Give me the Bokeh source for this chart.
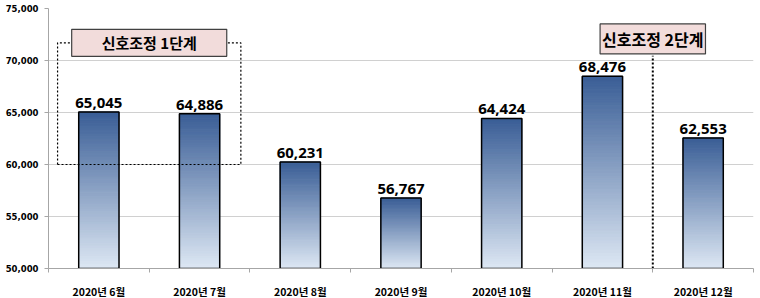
from bokeh.plotting import figure
from bokeh.models import Range1d, FixedTicker, NumeralTickFormatter, Label
from bokeh.core.properties import value
from bokeh.embed import file_html
from bokeh.resources import INLINE

categories = ["2020년 6월", "2020년 7월", "2020년 8월", "2020년 9월",
              "2020년 10월", "2020년 11월", "2020년 12월"]
values = [65045, 64886, 60231, 56767, 64424, 68476, 62553]
y_ticks = [50000, 55000, 60000, 65000, 70000, 75000]
stage_labels = ["신호조정 1단계", "신호조정 2단계"]

Y0, Y1 = 50000, 75000
n = len(categories)

p = figure(frame_width=705, frame_height=260, output_backend="svg", toolbar_location=None,
           x_range=Range1d(0, n), y_range=Range1d(Y0, Y1),
           min_border_left=48, min_border_right=7, min_border_top=8, min_border_bottom=30)
p.outline_line_color = None
p.background_fill_color = "white"
p.border_fill_color = "white"

# axes
p.xgrid.grid_line_color = None
p.ygrid.grid_line_color = "#d0d0d0"
p.ygrid.grid_line_width = 1
p.yaxis.ticker = FixedTicker(ticks=y_ticks)
p.yaxis.formatter = NumeralTickFormatter(format="0,0")
p.yaxis.axis_line_color = "#a6a6a6"
p.yaxis.major_tick_line_color = "#a6a6a6"
p.yaxis.major_tick_out = 4
p.yaxis.major_tick_in = 0
p.yaxis.minor_tick_line_color = None
p.yaxis.major_label_text_font = "DejaVu Sans"
p.yaxis.major_label_text_font_style = "bold"
p.yaxis.major_label_text_font_size = "8.5px"
p.yaxis.major_label_text_color = "black"
p.yaxis.major_label_standoff = 6

centers = [i + 0.5 for i in range(n)]
p.xaxis.ticker = FixedTicker(ticks=centers, minor_ticks=list(range(n + 1)))
p.xaxis.major_label_overrides = {c: lab for c, lab in zip(centers, categories)}
p.xaxis.major_tick_line_color = None
p.xaxis.minor_tick_line_color = "#a6a6a6"
p.xaxis.minor_tick_out = 4
p.xaxis.minor_tick_in = 0
p.xaxis.axis_line_color = "#a6a6a6"
p.xaxis.major_label_text_font = "Noto Sans CJK KR"
p.xaxis.major_label_text_font_style = "bold"
p.xaxis.major_label_text_font_size = "10.5px"
p.xaxis.major_label_text_color = "black"
p.xaxis.major_label_standoff = 9

# gradient bars
N = 60
top_c = (58, 94, 150)
bot_c = (222, 232, 244)
L, R, B, T, C = [], [], [], [], []
bw = 0.4
for i, v in enumerate(values):
    for k in range(N):
        f0 = k / N
        f1 = (k + 1) / N
        B.append(Y0 + (v - Y0) * f0)
        T.append(Y0 + (v - Y0) * f1)
        L.append(centers[i] - bw / 2)
        R.append(centers[i] + bw / 2)
        t = (k + 0.5) / N
        col = tuple(int(round(bot_c[j] + (top_c[j] - bot_c[j]) * t)) for j in range(3))
        C.append("#%02x%02x%02x" % col)
p.quad(left=L, right=R, bottom=B, top=T, fill_color=C, line_color=C, line_width=1)
p.quad(left=[c - bw / 2 for c in centers], right=[c + bw / 2 for c in centers],
       bottom=[Y0] * n, top=values, fill_color=None, line_color="black", line_width=1.5)

# value labels
p.text(x=centers, y=values, text=[f"{v:,}" for v in values], text_align="center",
       text_baseline="bottom", y_offset=-4, text_font=value("Noto Sans"),
       text_font_style="bold", text_font_size="15px", text_color="black")

# stage 1 dotted box
box_l, box_r, box_b, box_t = 0.09, 1.91, 60000, 71700
p.line(x=[box_l, box_l, box_r, box_r, box_l], y=[box_b, box_t, box_t, box_b, box_b],
       line_color="black", line_width=1.2, line_dash="2 2")
p.add_layout(Label(x=1.0, y=box_t, text=stage_labels[0], text_align="center",
                   text_baseline="middle", text_font="Noto Sans CJK KR",
                   text_font_style="bold", text_font_size="15px", text_color="black",
                   background_fill_color="#f2dcdb", border_line_color="#404040",
                   border_line_width=1.2, padding=(30, 3)))

# stage 2 divider
p.line(x=[6, 6], y=[Y0, 70450], line_color="black", line_width=2, line_dash="2 2")
p.add_layout(Label(x=6.0, y=72070, text=stage_labels[1], text_align="center",
                   text_baseline="middle", text_font="Noto Sans CJK KR",
                   text_font_style="bold", text_font_size="16px", text_color="black",
                   background_fill_color="#f2dcdb", border_line_color="#404040",
                   border_line_width=1.2, padding=(2, 3)))

open("out.html", "w").write(file_html(p, INLINE))
